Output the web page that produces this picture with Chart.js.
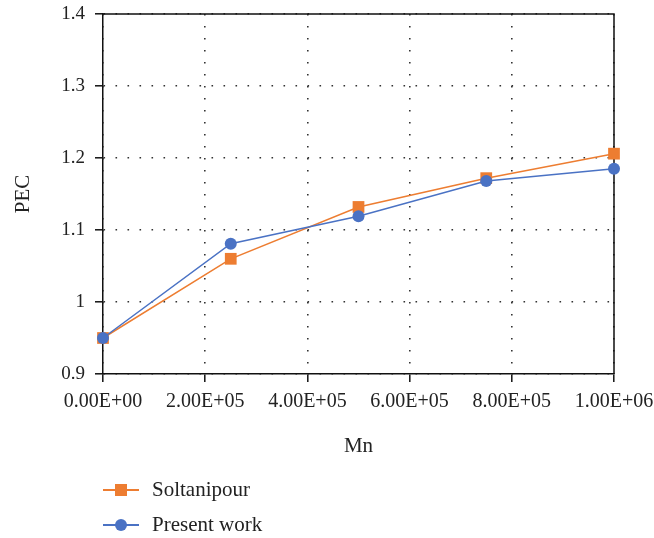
<!DOCTYPE html>
<html>
<head>
<meta charset="utf-8">
<script src="https://cdn.jsdelivr.net/npm/chart.js@4.4.1/dist/chart.umd.min.js"></script>
<style>
  html, body { margin: 0; padding: 0; background: #fff; }
  #wrap { position: relative; width: 654px; height: 538px; }
  #legend { position: absolute; left: 103px; top: 472px; font-family: 'Liberation Serif', serif; font-size: 21px; color: #222; }
  .row { display: flex; align-items: center; height: 35px; }
  .sw { position: relative; width: 36px; height: 12px; margin-right: 13px; }
  .sw .ln { position: absolute; left: 0; right: 0; top: 5px; height: 2px; }
  .sw .mk { position: absolute; left: 12px; top: 0; width: 12px; height: 12px; }
</style>
</head>
<body>
<div id="wrap">
  <canvas id="c" width="654" height="538"></canvas>
  <div id="legend"></div>
</div>
<script>
const mn = [0, 250000, 500000, 750000, 1000000];
const soltanipour = [0.95, 1.06, 1.132, 1.172, 1.206];
const presentWork = [0.95, 1.081, 1.119, 1.168, 1.185];
const xTickLabels = ['0.00E+00', '2.00E+05', '4.00E+05', '6.00E+05', '8.00E+05', '1.00E+06'];
const yTickLabels = ['0.9', '1', '1.1', '1.2', '1.3', '1.4'];

const ORANGE = '#ED7D31';
const BLUE = '#4A72C4';
const font = "'Liberation Serif', 'Times New Roman', serif";

const series = [
  { label: 'Soltanipour', values: soltanipour, color: ORANGE, style: 'rect', r: 8.3, order: 1 },
  { label: 'Present work', values: presentWork, color: BLUE, style: 'circle', r: 6, order: 0 }
];

// frame on top and right of the plot area
const frame = {
  id: 'frame',
  beforeDatasetsDraw(chart) {
    const { ctx, chartArea: a } = chart;
    ctx.save();
    ctx.strokeStyle = '#111';
    ctx.lineWidth = 1.5;
    ctx.beginPath();
    ctx.moveTo(a.left, a.top);
    ctx.lineTo(a.right, a.top);
    ctx.lineTo(a.right, a.bottom);
    ctx.stroke();
    ctx.restore();
  }
};

const grid = {
  color: '#333',
  lineWidth: 1.6,
  tickLength: 8,
  tickColor: '#111',
  tickWidth: 1.5,
  tickBorderDash: []
};
const border = { color: '#111', width: 1.5, dash: [1.6, 10.4] };

new Chart(document.getElementById('c'), {
  type: 'line',
  data: {
    datasets: series.map(s => ({
      label: s.label,
      data: mn.map((x, i) => ({ x, y: s.values[i] })),
      borderColor: s.color,
      backgroundColor: s.color,
      borderWidth: 1.5,
      pointStyle: s.style,
      pointRadius: s.r,
      pointHoverRadius: s.r,
      pointBorderWidth: 0,
      tension: 0,
      clip: false,
      order: s.order
    }))
  },
  options: {
    responsive: false,
    animation: false,
    layout: { padding: { top: 14, right: 40, left: 0, bottom: 68 } },
    plugins: { legend: { display: false }, tooltip: { enabled: false } },
    scales: {
      x: {
        type: 'linear',
        min: 0, max: 1000000,
        afterFit: s => { s.height = 96; s.paddingLeft = 0; s.paddingRight = 0; },
        afterBuildTicks: s => { s.ticks = xTickLabels.map((_, i) => ({ value: i * 200000 })); },
        ticks: {
          color: '#222', padding: 8, maxRotation: 0, autoSkip: false,
          font: { family: font, size: 20 },
          callback: (v, i) => xTickLabels[i]
        },
        grid: grid,
        border: border,
        title: { display: true, text: 'Mn', color: '#222', font: { family: font, size: 21 }, padding: { top: 0, bottom: 11 } }
      },
      y: {
        min: 0.9, max: 1.4,
        afterFit: s => { s.width = 103; s.paddingTop = 0; s.paddingBottom = 0; },
        afterBuildTicks: s => { s.ticks = yTickLabels.map(t => ({ value: parseFloat(t) })); },
        ticks: {
          color: '#222', padding: 10,
          font: { family: font, size: 19 },
          callback: (v, i) => yTickLabels[i]
        },
        grid: grid,
        border: border,
        title: { display: true, text: 'PEC', color: '#222', font: { family: font, size: 21 }, padding: { top: 11, bottom: 0 } }
      }
    }
  },
  plugins: [frame]
});

// html legend, stacked
const legendEl = document.getElementById('legend');
series.forEach(s => {
  const row = document.createElement('div');
  row.className = 'row';
  const radius = s.style === 'circle' ? '50%' : '0';
  row.innerHTML = `
    <div class="sw"><div class="ln" style="background:${s.color}"></div>
      <div class="mk" style="background:${s.color};border-radius:${radius}"></div></div>
    <span>${s.label}</span>`;
  legendEl.appendChild(row);
});
</script>
</body>
</html>
